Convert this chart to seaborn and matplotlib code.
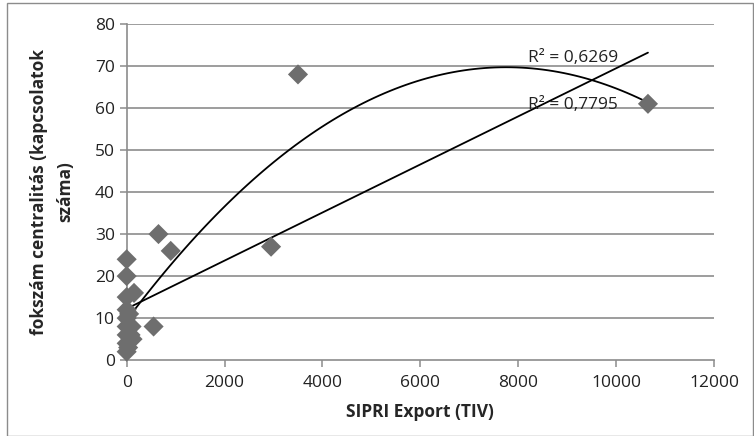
import numpy as np
import pandas as pd
import matplotlib
matplotlib.use("Agg")
import matplotlib.pyplot as plt
import seaborn as sns
from matplotlib.patches import Rectangle

export_tiv = [3500, 10650, 2950, 650, 900, 550, 0, 0, 0, 150, 0, 0, 50, 0, 100, 0, 80, 0, 120, 0, 30]
degree = [68, 61, 27, 30, 26, 8, 24, 20, 15, 16, 12, 10, 11, 8, 8, 6, 6, 4, 5, 2, 3]
r2_labels = ["R² = 0,6269", "R² = 0,7795"]
xticks = [0, 2000, 4000, 6000, 8000, 10000, 12000]
yticks = [0, 10, 20, 30, 40, 50, 60, 70, 80]

df = pd.DataFrame({"x": export_tiv, "y": degree})

sns.set_style("white")
plt.rcParams["font.family"] = ["Open Sans", "DejaVu Sans"]

fig = plt.figure(figsize=(7.54, 4.36), dpi=100)
ax = fig.add_axes([0.168, 0.174, 0.779, 0.771])

for yv in yticks[1:]:
    ax.axhline(yv, color="#8c8c8c", lw=1.2, zorder=0)

sns.scatterplot(data=df, x="x", y="y", marker="D", s=105, color="#6e6e6e",
                edgecolor="none", ax=ax, zorder=3, clip_on=False)
sns.regplot(data=df, x="x", y="y", scatter=False, ci=None, order=1,
            line_kws=dict(color="black", lw=1.3), ax=ax)
sns.regplot(data=df, x="x", y="y", scatter=False, ci=None, order=2,
            line_kws=dict(color="black", lw=1.3), ax=ax)

ax.set_xlim(0, 12000)
ax.set_ylim(0, 80)
ax.set_xticks(xticks)
ax.set_yticks(yticks)
ax.tick_params(axis="both", labelsize=12.5, colors="#8c8c8c", labelcolor="#222222",
               direction="out", length=5, width=1.1, left=True, bottom=True)
ax.tick_params(axis="x", pad=6)
for side in ["top", "right"]:
    ax.spines[side].set_visible(False)
for side in ["left", "bottom"]:
    ax.spines[side].set_color("#8c8c8c")
    ax.spines[side].set_linewidth(1.2)

ax.set_xlabel("SIPRI Export (TIV)", fontsize=12.5, fontweight="bold", labelpad=8)
ax.set_ylabel("fokszám centralitás (kapcsolatok\nszáma)", fontsize=12.5,
              fontweight="bold", labelpad=15, linespacing=1.6)

ax.text(8200, 72, r2_labels[0], fontsize=12.5, va="center", ha="left", color="#222222")
ax.text(8200, 60.8, r2_labels[1], fontsize=12.5, va="center", ha="left", color="#222222")

fig.patches.append(Rectangle((0.009, 0.0), 0.99, 0.993, transform=fig.transFigure,
                             fill=False, edgecolor="#8c8c8c", lw=1.0))

fig.savefig("out.png", dpi=100)
